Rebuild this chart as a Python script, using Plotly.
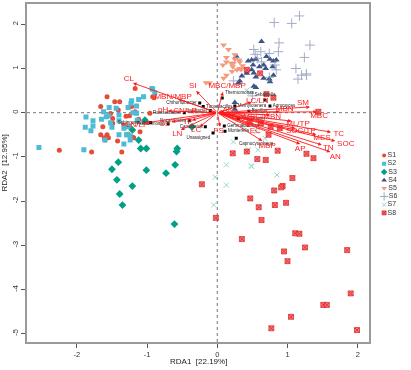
import plotly.graph_objects as go

# ---------------- data ----------------
group_names = ["S1", "S2", "S3", "S4", "S5", "S6", "S7", "S8"]

s1_x = [-1.17,-1.57,-1.46,-1.39,-1.66,-1.41,-1.22,-1.17,-1.49,-1.49,-1.57,-1.60,-1.36,-1.63,-0.92,-1.12,-0.96,-2.25,-1.79,-1.61,
        -1.55,-1.42,-1.27,-1.19,-1.10,-1.52,-1.30,-1.25,-1.33,-1.26,-1.21,-0.90,-1.66]
s1_y = [0.55,0.36,0.25,0.25,0.14,0.06,0.14,0.02,-0.13,-0.24,-0.50,-0.62,-0.89,-0.32,0.36,-0.15,-0.01,-0.85,-0.89,-0.57,
        -0.57,-0.64,-0.49,-0.57,-0.43,-0.02,-0.08,-0.07,-0.28,-0.32,-0.55,0.34,-0.50]

s2_x = [-2.54,-1.90,-1.87,-1.88,-1.77,-1.77,-1.80,-1.60,-1.54,-1.55,-1.52,-1.50,-1.44,-1.40,-1.40,-1.40,-1.33,-1.29,-1.23,-1.27,
        -1.24,-1.20,-1.15,-1.33,-1.14,-0.93,-0.89,-1.05,-1.12,-1.22,-1.27,-1.15,-1.29,-1.24,-1.62,-1.65,-1.58,-0.92]
s2_y = [-0.79,-0.84,-0.10,-0.33,-0.18,-0.30,-0.41,-0.62,0.12,-0.07,-0.23,-0.33,0.10,-0.05,-0.18,-0.50,-0.71,-0.50,0.21,-0.32,
        -0.53,0.00,0.15,-0.35,-0.17,0.55,0.45,0.36,0.30,0.27,0.12,-0.01,-0.50,-0.62,0.02,-0.15,-0.09,0.53]

s3_x = [-1.21,-1.12,-1.09,-1.01,-0.58,-1.41,-1.50,-1.01,-0.60,-0.73,-1.43,-1.21,-1.39,-1.35,-0.61,-0.36,-1.03,-0.57]
s3_y = [-0.39,-0.62,-0.81,-0.81,-0.88,-1.12,-1.28,-1.30,-1.18,-1.37,-1.52,-1.66,-1.84,-2.09,-2.52,-0.32,-0.17,-0.81]

s4_x = [0.63,0.27,0.44,0.49,0.55,0.60,0.51,0.70,0.75,0.80,0.84,0.66,0.69,0.79,0.42,0.49,0.55,0.66,0.74,0.80,
        0.35,0.32,0.30,0.55,0.52,0.25,0.25,0.52,0.75]
s4_y = [1.61,1.28,1.17,1.19,1.21,1.04,1.08,1.27,1.21,1.17,1.19,1.08,1.00,1.04,0.89,0.97,0.81,0.78,0.76,0.85,
        0.83,0.72,0.67,0.57,0.90,0.23,0.08,0.60,0.70]

s5_x = [0.13,0.08,0.13,0.23,0.31,0.25,0.21,0.28,0.32,0.36,0.22,0.09,0.13,-0.11,0.09,0.16,0.25,0.32,0.34,0.20,-0.16]
s5_y = [1.25,1.08,1.15,1.12,1.19,1.21,0.93,0.97,1.00,1.06,1.04,0.78,0.85,0.67,1.53,1.43,1.31,1.15,0.98,1.12,0.68]

s6_x = [1.17,0.81,1.06,0.88,1.32,0.87,0.62,0.52,1.24,0.54,0.74,1.12,1.27,1.15,0.82,0.84,0.57,0.63,0.23,0.74,1.20,1.27,0.50]
s6_y = [2.19,2.04,2.02,1.58,1.53,1.38,1.38,1.43,1.25,1.32,1.34,1.00,0.88,0.76,1.08,0.97,1.23,1.15,0.72,0.80,0.85,0.85,0.38]

s7_x = [0.13,0.48,-0.03,0.13,0.85,-0.05,0.58,0.37,0.23,0.44,0.49,0.46,0.68,0.56,0.25,0.42]
s7_y = [-1.18,-1.20,-1.46,-1.64,-1.41,-2.09,-0.84,-0.35,-0.66,-0.84,-1.22,0.44,-0.58,-0.43,-0.24,0.51]

s8_x = [0.22,0.42,0.86,1.27,1.37,0.57,0.69,-0.22,1.07,0.93,0.91,0.81,0.47,0.98,0.82,0.59,-0.02,0.63,1.11,1.17,
        0.35,1.25,1.85,0.95,1.00,1.90,1.51,1.56,1.05,0.77,1.99,0.61,0.42,0.70,0.80,1.44,0.73,0.62,0.76,0.89,0.46]
s8_y = [-0.92,-0.88,-0.86,-0.93,-1.03,-1.05,-1.07,-1.62,-1.48,-1.66,-1.69,-1.76,-1.94,-2.04,-2.09,-2.14,-2.38,-2.43,-2.73,-2.74,
        -2.86,-3.05,-3.11,-3.14,-3.36,-4.09,-4.35,-4.35,-4.62,-4.88,-4.92,0.89,0.97,0.42,0.34,0.02,-0.50,-0.24,-0.32,-0.35,-0.20]

# environmental factors (biplot arrows)
env_names = ["CL","SI","MBC/MBP","MBN/MBP","pH","CN/LP","LN/LP","CS","TP","LN","LC","FS","AK","DC","EC",
             "MBP","AP","AN","TN","SOC","TC","MES","SOC/TP","ML/TP","MBN","SM","MBC","MBC/MBN","LC/LN"]
env_x = [-1.20,-0.30,0.08,-0.56,-0.70,-0.39,-1.03,-0.65,-0.36,-0.52,-0.25,0.04,0.10,0.21,0.47,
         0.64,1.18,1.61,1.49,1.68,1.62,1.41,1.11,1.06,0.89,1.32,1.42,0.75,0.49]
env_y = [0.67,0.49,0.47,0.31,0.04,0.02,-0.23,-0.21,-0.17,-0.39,-0.32,-0.32,0.04,-0.05,-0.32,
         -0.64,-0.71,-0.89,-0.73,-0.64,-0.44,-0.50,-0.35,-0.19,0.02,0.13,0.02,-0.05,0.24]
env_lab_x = [-1.26,-0.35,0.14,-0.63,-0.77,-0.46,-1.14,-0.75,-0.42,-0.57,-0.30,0.02,0.15,0.28,0.54,
             0.71,1.18,1.68,1.58,1.83,1.73,1.49,1.19,1.15,0.96,1.22,1.45,0.64,0.57]
env_lab_y = [0.76,0.60,0.60,0.36,0.06,0.04,-0.28,-0.26,-0.21,-0.48,-0.39,-0.41,0.06,-0.10,-0.41,
             -0.75,-0.82,-1.00,-0.80,-0.71,-0.48,-0.57,-0.41,-0.26,0.08,0.22,-0.07,-0.10,0.26]

# species (genus) scores
sp_names = ["Thermomonas","Sebaldella","Agromyces","Methylotenera","Capnocytophaga","Unassigned","Mortierella",
            "Candidatus","Chthoniobacter","Tumebacillus","Pseudomonas","Sphingomonas","Flavisolibacter",
            "Ramlibacter","Nocardioides","Gemmatimonas","Lysobacter","Bacillus"]
sp_x = [0.07,0.68,0.75,0.25,0.27,-0.06,0.11,-0.17,-0.25,-0.20,-0.70,-0.95,-0.47,0.30,-0.40,0.10,-0.10,0.45]
sp_y = [0.33,0.29,0.15,0.15,-0.58,-0.46,-0.42,-0.32,0.22,0.14,-0.25,-0.22,0.00,-0.13,-0.18,-0.30,0.05,0.03]
sp_pos = ["top right","top center","middle right","middle right","bottom right","bottom left","middle right",
          "middle left","middle left","middle right","middle left","middle left","middle left",
          "middle right","middle left","middle right","middle left","middle right"]

x_ticks = [-2, -1, 0, 1, 2]
y_ticks = [-5, -4, -3, -2, -1, 0, 1, 2]
x_title = "RDA1  [22.19%]"
y_title = "RDA2  [12.95%]"

# ---------------- styling ----------------
colors = ["#E64B35", "#4DBBD5", "#00A087", "#3C5488", "#F39B7F", "#8491B4", "#91D1C2", "#DC0000"]
fills = ["#E64B35", "#4DBBD5", "#00A087", "#3C5488", "#F39B7F", "#8491B4", "#91D1C2", "#F07070"]
symbols = ["circle", "square", "diamond", "triangle-up", "triangle-down", "cross-thin-open", "x-thin-open", "square-x"]
sizes = [5, 5, 6, 6, 6, 7, 5, 5]
lwidths = [0, 0, 0, 0, 0, 1, 1, 0.7]
opac = [1, 1, 1, 1, 1, 0.75, 0.9, 0.9]
FONT = "Liberation Sans, Arial, sans-serif"

xs_all = [s1_x, s2_x, s3_x, s4_x, s5_x, s6_x, s7_x, s8_x]
ys_all = [s1_y, s2_y, s3_y, s4_y, s5_y, s6_y, s7_y, s8_y]

fig = go.Figure()
for i in range(8):
    fig.add_trace(go.Scatter(
        x=xs_all[i], y=ys_all[i], mode="markers", name=group_names[i], showlegend=False,
        opacity=opac[i],
        marker=dict(symbol=symbols[i], size=sizes[i], color=fills[i],
                    line=dict(color=colors[i], width=lwidths[i]))))

# species points + labels
fig.add_trace(go.Scatter(
    x=sp_x, y=sp_y, mode="markers+text", text=sp_names, textposition=sp_pos, showlegend=False,
    marker=dict(symbol="square", size=3, color="black"),
    textfont=dict(size=4.5, color="#222222", family=FONT)))

# env labels
fig.add_trace(go.Scatter(
    x=env_lab_x, y=env_lab_y, mode="text", text=env_names, showlegend=False,
    textfont=dict(size=8, color="#FF1A1A", family=FONT)))

# arrows
for ex, ey in zip(env_x, env_y):
    fig.add_annotation(x=ex, y=ey, ax=0, ay=0, xref="x", yref="y", axref="x", ayref="y",
                       text="", showarrow=True, arrowhead=2, arrowsize=0.8, arrowwidth=0.9,
                       arrowcolor="#FF1A1A", standoff=0, startstandoff=0)

# custom legend (drawn on an auxiliary axis)
leg_rows = list(range(8))
fig.add_trace(go.Scatter(
    x=[0] * 8, y=leg_rows, xaxis="x2", yaxis="y2", mode="markers+text", showlegend=False,
    text=group_names, textposition="middle right",
    textfont=dict(size=7, color="#333333", family=FONT),
    marker=dict(symbol=symbols, size=[s - 1 for s in sizes], color=fills,
                line=dict(color=colors, width=lwidths), opacity=opac)))

axis_common = dict(showgrid=False, zeroline=False, showline=True, mirror=True,
                   linecolor="#9A9A9A", linewidth=1.6, ticks="outside", ticklen=4,
                   tickcolor="#555555", tickwidth=0.8,
                   tickfont=dict(size=7.5, color="#333333", family=FONT))

fig.update_layout(
    width=411, height=370,
    margin=dict(l=27, r=0, t=4, b=28),
    paper_bgcolor="white", plot_bgcolor="white",
    xaxis=dict(range=[-2.71, 2.165], domain=[0, 0.8914], tickvals=x_ticks,
               ticktext=[str(v) for v in x_ticks], **axis_common),
    yaxis=dict(range=[-5.19, 2.46], tickvals=y_ticks, ticktext=[str(v) for v in y_ticks],
               tickangle=-90, **axis_common),
    xaxis2=dict(domain=[0.9, 1.0], range=[-0.3, 0.7], visible=False, anchor="y2"),
    yaxis2=dict(domain=[0, 1], range=[22.76, -18.5], visible=False, anchor="x2"),
    shapes=[
        dict(type="line", xref="x", yref="paper", x0=0, x1=0, y0=0, y1=1,
             line=dict(color="#666666", width=0.9, dash="dot"), layer="below"),
        dict(type="line", xref="paper", yref="y", x0=0, x1=0.8914, y0=0, y1=0,
             line=dict(color="#666666", width=0.9, dash="dot"), layer="below"),
    ],
)

fig.add_annotation(text=x_title, xref="paper", yref="paper", x=0.4457, y=-0.058,
                   showarrow=False, xanchor="center", yanchor="middle",
                   font=dict(size=8, color="#222222", family=FONT))
fig.add_annotation(text=y_title, xref="paper", yref="paper", x=-0.058, y=0.53,
                   showarrow=False, textangle=-90, xanchor="center", yanchor="middle",
                   font=dict(size=8, color="#222222", family=FONT))

fig.write_html("out.html", config={"displayModeBar": False},
               post_script="document.body.style.margin='0';document.body.style.overflow='hidden';")
